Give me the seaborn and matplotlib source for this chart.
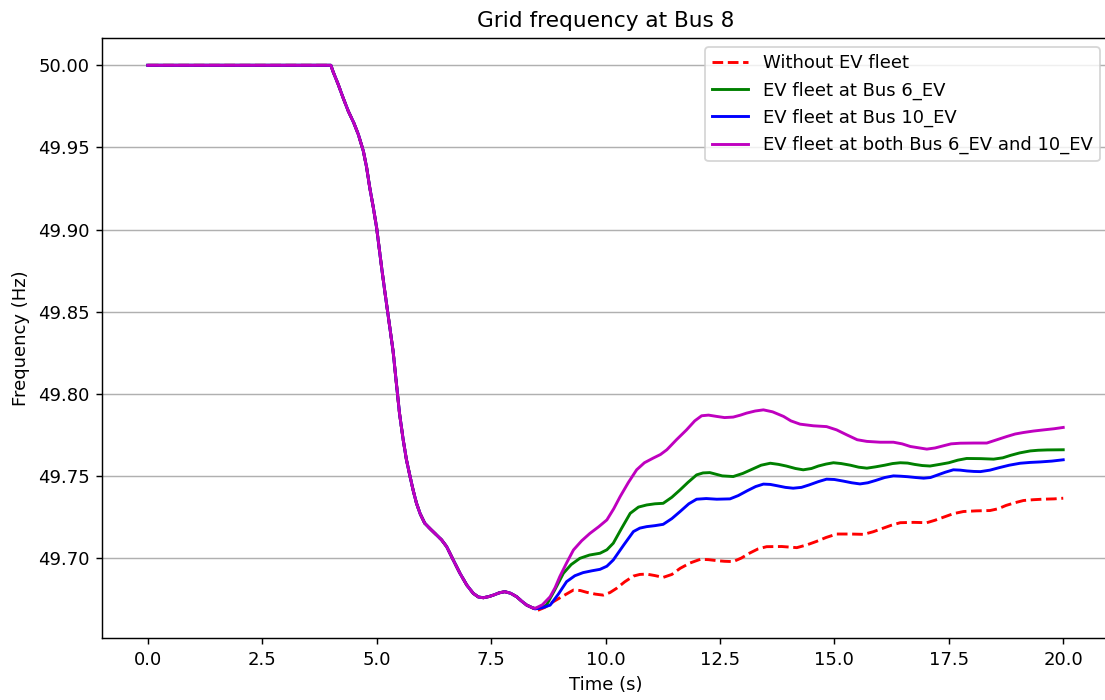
import matplotlib
matplotlib.use("Agg")
import matplotlib.pyplot as plt
import seaborn as sns

# Common part of the response (identical for all cases until the fleets react)
t_common = [0.0, 4.0, 4.05, 4.16, 4.27, 4.38, 4.50, 4.60, 4.71, 4.78, 4.85, 4.93,
            5.00, 5.11, 5.18, 5.25, 5.36, 5.44, 5.50, 5.58, 5.65, 5.73, 5.80,
            5.87, 5.95, 6.05, 6.18, 6.31, 6.42, 6.53, 6.67, 6.82, 6.97, 7.11,
            7.22, 7.33, 7.45, 7.55, 7.68, 7.80, 7.93, 8.06, 8.17, 8.28, 8.38]
f_common = [50.0, 50.0, 49.9960, 49.9884, 49.9800, 49.9721, 49.9650, 49.9579,
            49.9477, 49.9380, 49.9254, 49.9130, 49.9010, 49.8766, 49.8620,
            49.8480, 49.8258, 49.8040, 49.7880, 49.7720, 49.7600, 49.7496,
            49.7410, 49.7334, 49.7270, 49.7212, 49.7175, 49.7140, 49.7110,
            49.7069, 49.6990, 49.6907, 49.6835, 49.6785, 49.6763, 49.6758,
            49.6765, 49.6774, 49.6788, 49.6795, 49.6785, 49.6764, 49.6737,
            49.6713, 49.6700]

# Without EV fleet
t_none = [8.50, 8.68, 8.86, 9.08, 9.30, 9.45, 9.59, 9.78, 9.95, 10.10, 10.24,
          10.42, 10.61, 10.75, 10.90, 11.08, 11.26, 11.45, 11.63, 11.85, 12.07,
          12.25, 12.43, 12.60, 12.79, 12.97, 13.15, 13.33, 13.52, 13.85, 14.18,
          14.40, 14.60, 14.82, 15.05, 15.35, 15.64, 15.85, 16.05, 16.25, 16.44,
          16.73, 17.02, 17.20, 17.40, 17.60, 17.82, 18.10, 18.40, 18.58, 18.75,
          18.95, 19.13, 19.35, 19.55, 19.80, 20.0]
f_none = [49.6679, 49.6700, 49.6734, 49.6770, 49.6805, 49.6802, 49.6791, 49.6780,
          49.6774, 49.6790, 49.6815, 49.6855, 49.6890, 49.6900, 49.6902, 49.6893,
          49.6882, 49.6900, 49.6937, 49.6970, 49.6992, 49.6990, 49.6984, 49.6980,
          49.6978, 49.7000, 49.7030, 49.7055, 49.7069, 49.7070, 49.7063, 49.7080,
          49.7100, 49.7125, 49.7146, 49.7146, 49.7144, 49.7160, 49.7180, 49.7200,
          49.7215, 49.7217, 49.7215, 49.7230, 49.7250, 49.7270, 49.7283, 49.7287,
          49.7289, 49.7300, 49.7320, 49.7337, 49.7350, 49.7355, 49.7358, 49.7360,
          49.7364]

# EV fleet at Bus 6_EV
t_bus6 = [8.46, 8.60, 8.71, 8.90, 9.08, 9.25, 9.44, 9.65, 9.88, 10.03, 10.17,
          10.35, 10.54, 10.72, 10.90, 11.08, 11.26, 11.45, 11.63, 11.80, 11.99,
          12.13, 12.28, 12.55, 12.79, 13.00, 13.20, 13.40, 13.60, 13.78, 13.95,
          14.15, 14.32, 14.50, 14.65, 14.82, 14.98, 15.15, 15.35, 15.53, 15.71,
          15.90, 16.10, 16.27, 16.44, 16.60, 16.75, 16.92, 17.09, 17.30, 17.50,
          17.70, 17.89, 18.20, 18.48, 18.68, 18.85, 19.05, 19.28, 19.45, 19.65,
          20.0]
f_bus6 = [49.6693, 49.6700, 49.6713, 49.6810, 49.6907, 49.6960, 49.6998, 49.7018,
          49.7029, 49.7050, 49.7090, 49.7180, 49.7272, 49.7310, 49.7323, 49.7330,
          49.7333, 49.7370, 49.7415, 49.7460, 49.7506, 49.7518, 49.7520, 49.7500,
          49.7496, 49.7515, 49.7540, 49.7565, 49.7577, 49.7570, 49.7560, 49.7545,
          49.7537, 49.7545, 49.7560, 49.7572, 49.7580, 49.7575, 49.7565, 49.7553,
          49.7547, 49.7555, 49.7565, 49.7575, 49.7580, 49.7578, 49.7570, 49.7563,
          49.7560, 49.7570, 49.7580, 49.7596, 49.7606, 49.7605, 49.7602, 49.7610,
          49.7625, 49.7640, 49.7652, 49.7656, 49.7658, 49.7659]

# EV fleet at Bus 10_EV
t_bus10 = [8.46, 8.62, 8.79, 8.97, 9.15, 9.33, 9.51, 9.70, 9.88, 10.03, 10.17,
           10.40, 10.61, 10.75, 10.90, 11.08, 11.26, 11.45, 11.63, 11.82, 11.99,
           12.20, 12.43, 12.72, 12.90, 13.10, 13.28, 13.45, 13.60, 13.75, 13.93,
           14.10, 14.28, 14.45, 14.65, 14.83, 15.00, 15.20, 15.38, 15.56, 15.73,
           15.90, 16.10, 16.29, 16.45, 16.60, 16.78, 16.95, 17.10, 17.25, 17.42,
           17.60, 17.75, 17.90, 18.05, 18.19, 18.40, 18.60, 18.82, 19.06, 19.28,
           19.50, 19.75, 20.0]
f_bus10 = [49.6690, 49.6697, 49.6713, 49.6780, 49.6856, 49.6892, 49.6911, 49.6922,
           49.6931, 49.6950, 49.6988, 49.7080, 49.7161, 49.7182, 49.7191, 49.7197,
           49.7205, 49.7240, 49.7283, 49.7330, 49.7358, 49.7362, 49.7358, 49.7360,
           49.7380, 49.7410, 49.7435, 49.7450, 49.7448, 49.7440, 49.7430, 49.7425,
           49.7430, 49.7445, 49.7465, 49.7480, 49.7478, 49.7468, 49.7458, 49.7451,
           49.7458, 49.7472, 49.7490, 49.7500, 49.7498, 49.7495, 49.7490, 49.7486,
           49.7490, 49.7505, 49.7522, 49.7537, 49.7535, 49.7530, 49.7527, 49.7526,
           49.7535, 49.7550, 49.7565, 49.7577, 49.7582, 49.7585, 49.7590, 49.7598]

# EV fleet at both buses
t_both = [8.46, 8.62, 8.79, 8.90, 9.00, 9.15, 9.30, 9.48, 9.66, 9.85, 10.03, 10.18,
          10.32, 10.50, 10.68, 10.85, 11.04, 11.20, 11.34, 11.55, 11.77, 11.95,
          12.10, 12.25, 12.43, 12.60, 12.79, 12.95, 13.08, 13.27, 13.45, 13.65,
          13.89, 14.05, 14.25, 14.54, 14.83, 15.05, 15.27, 15.50, 15.71, 16.00,
          16.29, 16.48, 16.66, 17.02, 17.20, 17.38, 17.55, 17.75, 18.05, 18.33,
          18.55, 18.77, 18.95, 19.13, 19.35, 19.57, 19.80, 20.0]
f_both = [49.6693, 49.6715, 49.6764, 49.6820, 49.6886, 49.6970, 49.7049, 49.7105,
          49.7150, 49.7190, 49.7232, 49.7300, 49.7374, 49.7460, 49.7537, 49.7580,
          49.7608, 49.7630, 49.7659, 49.7720, 49.7780, 49.7835, 49.7866, 49.7870,
          49.7862, 49.7855, 49.7858, 49.7870, 49.7882, 49.7895, 49.7902, 49.7890,
          49.7862, 49.7835, 49.7815, 49.7805, 49.7800, 49.7780, 49.7750, 49.7720,
          49.7710, 49.7705, 49.7705, 49.7695, 49.7679, 49.7663, 49.7670, 49.7683,
          49.7695, 49.7699, 49.7700, 49.7700, 49.7720, 49.7740, 49.7755, 49.7764,
          49.7773, 49.7780, 49.7787, 49.7795]

labels = ["Without EV fleet", "EV fleet at Bus 6_EV", "EV fleet at Bus 10_EV",
          "EV fleet at both Bus 6_EV and 10_EV"]
colors = ["r", "g", "b", "m"]
styles = ["--", "-", "-", "-"]
tails = [(t_none, f_none), (t_bus6, f_bus6), (t_bus10, f_bus10), (t_both, f_both)]

DPI = 130
fig = plt.figure(figsize=(1105 / DPI, 700 / DPI), dpi=DPI)
ax = fig.add_axes([102 / 1105, 62 / 700, (1109 - 102) / 1105, 600 / 700])

for label, color, ls, (tt, ff) in zip(labels, colors, styles, tails):
    sns.lineplot(x=t_common + tt, y=f_common + ff, color=color, linestyle=ls,
                 linewidth=1.6, label=label, ax=ax, sort=False, estimator=None)

ax.set_title("Grid frequency at Bus 8")
ax.set_xlabel("Time (s)")
ax.set_ylabel("Frequency (Hz)")
ax.grid(axis="y")
ax.legend(loc="upper right")

fig.savefig("out.png", dpi=DPI)
